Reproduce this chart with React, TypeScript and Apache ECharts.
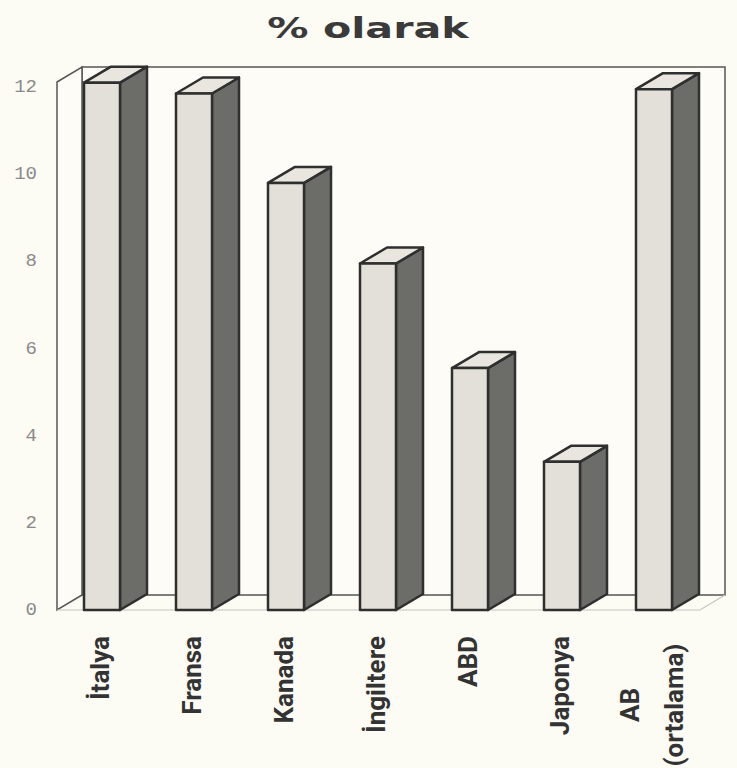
import React, { useEffect, useRef } from 'react';
import * as echarts from 'echarts';

const title = '% olarak';
const categories = ['İtalya', 'Fransa', 'Kanada', 'İngiltere', 'ABD', 'Japonya', 'AB\n(ortalama)'];
const values = [12.1, 11.85, 9.8, 7.95, 5.55, 3.4, 11.95];
const yMin = 0;
const yMax = 12;
const yInterval = 2;

// layout constants (pixels)
const GRID_LEFT = 54;
const GRID_RIGHT = 39;
const GRID_TOP = 87;
const GRID_BOTTOM = 158;
const BAR_W = 36;
const DX = 27;
const DY = -16;
const EDGE = '#2f2f2f';
const LABEL_FONT = "Roboto, 'Liberation Sans', sans-serif";

export default function App() {
  const ref = useRef<HTMLDivElement>(null);
  useEffect(() => {
    if (!ref.current) return;
    const chart = echarts.init(ref.current, undefined, { renderer: 'svg' });
    const H = 768;
    const baseY = H - GRID_BOTTOM;
    const frontL = 57;
    const backL = frontL + 25;
    const topFront = 82;
    const topBack = topFront - 15;
    const backR = 725;
    const floorBack = baseY - 15;
    chart.setOption({
      animation: false,
      backgroundColor: '#fcfbf4',
      grid: {
        left: GRID_LEFT,
        right: GRID_RIGHT,
        top: GRID_TOP,
        bottom: GRID_BOTTOM,
        containLabel: false,
        outerBoundsMode: 'none',
      },
      xAxis: {
        type: 'category',
        data: categories,
        axisLine: { show: false },
        axisTick: { show: false },
        axisLabel: {
          rotate: 90,
          margin: 26,
          interval: 0,
          fontFamily: LABEL_FONT,
          fontWeight: 'bold',
          fontSize: 26,
          color: '#333',
          formatter: (v: string) =>
            v.includes('\n') ? v.split('\n').map((s) => `{c|${s}}`).join('\n') : v,
          rich: {
            c: {
              width: 138,
              align: 'center',
              lineHeight: 44,
              fontFamily: LABEL_FONT,
              fontWeight: 'bold',
              fontSize: 26,
              color: '#333',
            },
          },
        },
      },
      yAxis: {
        type: 'value',
        min: yMin,
        max: yMax,
        interval: yInterval,
        axisLine: { show: false },
        axisTick: { show: false },
        splitLine: { show: false },
        axisLabel: { margin: 17, fontFamily: "'Liberation Mono', monospace", fontSize: 19, color: '#8a8a8a' },
      },
      graphic: [
        {
          type: 'text',
          z: 10,
          x: 368,
          y: 28,
          scaleX: 1.42,
          style: {
            text: title,
            fontFamily: 'DejaVu Sans',
            fontWeight: 'bold',
            fontSize: 29,
            fill: '#3a3a3a',
            textAlign: 'center',
            textVerticalAlign: 'middle',
          },
        },
        {
          type: 'polygon',
          z: 0,
          shape: { points: [[backL, topBack], [backR, topBack], [backR, floorBack], [backL, floorBack]] },
          style: { fill: '#fdfcf6', stroke: '#555', lineWidth: 1.5 },
        },
        {
          type: 'polygon',
          z: 0,
          shape: { points: [[frontL, topFront], [backL, topBack], [backL, floorBack], [frontL, baseY]] },
          style: { fill: '#fdfcf6', stroke: '#555', lineWidth: 1.5 },
        },
        {
          type: 'polyline',
          z: 0,
          shape: { points: [[frontL, baseY], [backR - 25, baseY], [backR, floorBack]] },
          style: { fill: 'none', stroke: '#c4c4c0', lineWidth: 1.2 },
        },
      ],
      series: [
        {
          type: 'custom',
          z: 5,
          data: values.map((v, i) => [i, v]),
          renderItem: (params: any, api: any) => {
            const top = api.coord([api.value(0), api.value(1)]);
            const base = api.coord([api.value(0), 0]);
            const x0 = top[0] - BAR_W / 2 + 2;
            const x1 = x0 + BAR_W;
            const ty = top[1];
            const by = base[1];
            const st = { stroke: EDGE, lineWidth: 2.5, lineJoin: 'round' };
            return {
              type: 'group',
              children: [
                {
                  type: 'polygon',
                  shape: { points: [[x1, ty], [x1 + DX, ty + DY], [x1 + DX, by + DY], [x1, by]] },
                  style: { ...st, fill: '#6c6c69' },
                },
                {
                  type: 'polygon',
                  shape: { points: [[x0, ty], [x0 + DX, ty + DY], [x1 + DX, ty + DY], [x1, ty]] },
                  style: { ...st, fill: '#e8e6de' },
                },
                {
                  type: 'rect',
                  shape: { x: x0, y: ty, width: BAR_W, height: by - ty },
                  style: { ...st, fill: '#e2e0d8' },
                },
              ],
            };
          },
        },
      ],
    });
    return () => chart.dispose();
  }, []);
  return (
    <div
      ref={ref}
      style={{ position: 'absolute', left: 0, top: 0, width: 737, height: 768, background: '#fcfbf4' }}
    />
  );
}
